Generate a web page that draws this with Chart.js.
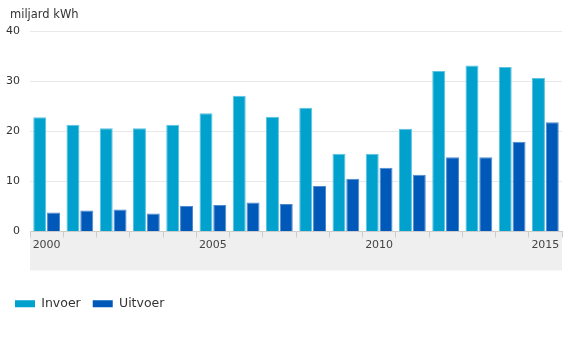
<!DOCTYPE html>
<html lang="nl">
<head>
<meta charset="UTF-8">
<title>Invoer en uitvoer elektriciteit</title>
<style>
  html, body { margin: 0; padding: 0; background: #fff; }
  #wrap { width: 570px; height: 350px; }
</style>
</head>
<body>
<div id="wrap"><canvas id="myChart"></canvas></div>
<script src="https://cdn.jsdelivr.net/npm/chart.js"></script>
<script>
// jaren en waarden (miljard kWh)
const years = ['2000','2001','2002','2003','2004','2005','2006','2007',
               '2008','2009','2010','2011','2012','2013','2014','2015'];
const invoer  = [22.8, 21.3, 20.6, 20.6, 21.3, 23.6, 27.1, 22.9,
                 24.7, 15.5, 15.5, 20.5, 32.0, 33.1, 32.8, 30.6];
const uitvoer = [3.8, 4.2, 4.4, 3.6, 5.1, 5.3, 5.8, 5.5,
                 9.1, 10.5, 12.7, 11.3, 14.8, 14.8, 17.9, 21.8];
const yTicks = [0, 10, 20, 30, 40];
const unitLabel = 'miljard kWh';

const FONT = 'DejaVu Sans';

// grijze band onder de x-as plus de eenheid linksboven
const decor = {
  id: 'decor',
  beforeDraw(chart) {
    const { ctx, chartArea } = chart;
    ctx.save();
    ctx.fillStyle = '#efefef';
    ctx.fillRect(chartArea.left, chartArea.bottom, chartArea.right - chartArea.left, 39);
    ctx.fillStyle = '#333';
    ctx.font = '11.5px "' + FONT + '"';
    ctx.textBaseline = 'middle';
    ctx.fillText(unitLabel, 10, 15);
    ctx.restore();
  }
};

new Chart(document.getElementById('myChart'), {
  type: 'bar',
  data: {
    labels: years,
    datasets: [
      {
        label: 'Invoer',
        data: invoer,
        backgroundColor: '#00a1cd',
        borderColor: '#5cc3e0',
        borderWidth: 1,
        categoryPercentage: 0.83,
        barPercentage: 0.94
      },
      {
        label: 'Uitvoer',
        data: uitvoer,
        backgroundColor: '#0058b8',
        borderColor: '#4d8ad0',
        borderWidth: 1,
        categoryPercentage: 0.83,
        barPercentage: 0.94
      }
    ]
  },
  options: {
    responsive: true,
    maintainAspectRatio: false,
    animation: false,
    layout: { padding: { left: 3, right: 8, top: 31, bottom: 30 } },
    plugins: {
      tooltip: { enabled: false },
      legend: {
        position: 'bottom',
        align: 'start',
        labels: {
          boxWidth: 20,
          boxHeight: 7,
          padding: 12,
          color: '#333',
          font: { family: FONT, size: 12.5 },
          generateLabels(chart) {
            return chart.data.datasets.map((ds, i) => ({
              text: ds.label,
              fillStyle: ds.backgroundColor,
              strokeStyle: ds.backgroundColor,
              lineWidth: 0,
              datasetIndex: i,
              fontColor: '#333'
            }));
          }
        }
      }
    },
    scales: {
      x: {
        grid: {
          offset: true,
          drawOnChartArea: false,
          drawTicks: true,
          tickLength: 6,
          color: '#cccccc'
        },
        border: { display: true, color: '#cccccc' },
        ticks: {
          autoSkip: false,
          maxRotation: 0,
          align: 'start',
          labelOffset: -14,
          padding: 1,
          color: '#444',
          font: { family: FONT, size: 11 },
          callback(value, index) {
            return index % 5 === 0 ? years[index] : '';
          }
        },
        afterFit(scale) {
          scale.height = 54;
          scale.paddingLeft = 0;
          scale.paddingRight = 0;
        }
      },
      y: {
        min: yTicks[0],
        max: yTicks[yTicks.length - 1],
        afterBuildTicks(scale) {
          scale.ticks = yTicks.map(v => ({ value: v }));
        },
        grid: { color: '#e8e8e8', drawTicks: false },
        border: { display: false },
        ticks: {
          padding: 10,
          color: '#333',
          font: { family: FONT, size: 11 }
        },
        afterFit(scale) { scale.width = 27; }
      }
    }
  },
  plugins: [decor]
});
</script>
</body>
</html>
